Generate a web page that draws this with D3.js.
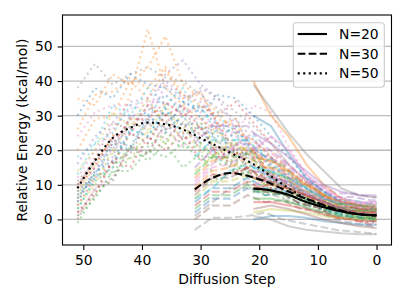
<!DOCTYPE html>
<html>
<head>
<meta charset="utf-8">
<script src="https://cdn.jsdelivr.net/npm/d3@7"></script>
<style>
  body { margin: 0; background: #fff; }
  text { font-family: "DejaVu Sans", sans-serif; }
</style>
</head>
<body>
<div id="chart"></div>
<script>
// diffusion steps sampled for each run length
const steps50 = [51, 48, 45, 42, 39, 36, 33, 30, 27, 24, 21, 18, 15, 12, 9, 6, 3, 0];
const steps30 = [31, 28, 25, 22, 19, 16, 13, 10, 7, 4, 1, 0];
const steps20 = [21, 18, 15, 12, 9, 6, 3, 0];

// mean curves
const mean50 = [9, 17, 23.5, 26.5, 28, 27.5, 26, 23.5, 21, 18.5, 16, 12.5, 9, 6, 4, 2.5, 1.5, 1.2];
const mean30 = [8.7, 12, 13.4, 12.6, 11, 8.8, 6.6, 4.8, 3, 1.8, 1.2, 1.1];
const mean20 = [8.9, 8.4, 7.1, 5, 3.5, 2.3, 1.5, 1.2];

// individual runs, N=50
const runs50 = [
  [5, 14, 17, 26, 24, 32, 27, 28, 22, 22, 15, 14, 10, 8, 4, 3.5, 1.5, 1.5],
  [8, 16, 24, 36, 55, 38, 33, 29, 25, 22, 18, 14, 10, 7, 5, 3, 2, 1],
  [3, 11, 15, 21, 21, 25, 22, 22, 17, 17, 12, 11, 7, 6.5, 3.5, 3, 1.5, 1],
  [10, 15, 24, 25, 33, 30, 33, 26, 28, 19, 20, 13, 12, 7, 5.5, 2.5, 1.5, 0],
  [6, 15, 18, 30, 31, 42, 46, 39, 35, 26, 21, 15, 13, 7.5, 6.5, 3.5, 3.5, 2.5],
  [2, 8, 17, 19, 28, 23, 28, 20, 21, 15, 14, 9, 8, 4.5, 3.5, 1.5, 1.5, 0.5],
  [12, 20, 26, 32, 33, 36, 32, 31, 26, 24, 18, 16, 11, 9.5, 6.5, 5.5, 3.5, 3.5],
  [38, 45, 39, 42, 44, 41, 40, 36, 32, 29, 23, 18, 13, 9, 6, 4, 3, 2],
  [7, 16, 19, 29, 25, 33, 25, 28, 19, 22, 13, 13, 8, 7, 3.5, 2.5, 0.5, 0],
  [18, 22, 33, 30, 38, 33, 38, 29, 31, 22, 24, 15, 14, 9, 7.5, 4.5, 4.5, 3],
  [30, 38, 35, 42, 39, 38, 34, 32, 27, 25, 19, 16, 12, 9, 6, 4, 3, 2],
  [35, 33, 42, 39, 44, 53, 39, 35, 31, 25, 23, 18, 14, 10, 7, 5, 4, 3],
  [-1, 7, 12, 18, 19, 23, 21, 21, 16, 16, 10, 10, 6, 5.5, 2.5, 2.5, 0.5, 0],
  [4, 12, 16, 25, 22, 30, 23, 27, 18, 20, 12, 13, 8, 7, 3, 2.5, 0.5, 0.5],
  [9, 17, 20, 30, 28, 39, 35, 37, 27, 29, 19, 18, 12, 11, 6, 5.5, 3.5, 4],
  [11, 17, 28, 26, 33, 28, 32, 24, 27, 18, 20, 12, 11, 6.5, 5.5, 2.5, 2.5, 1],
  [1, 9, 12, 21, 19, 27, 21, 25, 17, 21, 12, 13, 8, 6.5, 3.5, 3.5, 1.5, 1],
  [5, 14, 16, 25, 22, 31, 27, 30, 22, 25, 15, 15, 9, 8, 4.5, 3.5, 1.5, 1.5],
  [14, 20, 31, 27, 35, 26, 30, 22, 26, 17, 20, 12, 12, 7, 6.5, 4.5, 4.5, 3],
  [3, 12, 15, 26, 24, 32, 24, 27, 17, 20, 11, 12, 7, 5.5, 2.5, 1.5, -0.5, -0.5],
  [8, 13, 23, 21, 29, 25, 30, 22, 26, 17, 20, 11, 11, 6, 5.5, 2.5, 2.5, 2],
  [20, 29, 30, 40, 35, 43, 35, 37, 27, 29, 19, 18, 12, 9.5, 5.5, 4.5, 2.5, 2],
  [6, 13, 13, 21, 17, 22, 15, 19, 11, 15, 8, 9, 5, 4.5, 2.5, 2.5, 0.5, 1],
  [2, 7, 17, 15, 24, 20, 25, 17, 21, 13, 16, 9, 9, 5, 4.5, 2.5, 2.5, 1],
  [16, 24, 28, 34, 35, 40, 36, 34, 28, 26, 20, 18, 12, 10.5, 6.5, 6.5, 4.5, 5],
  [0, 9, 11, 21, 19, 28, 23, 27, 18, 21, 12, 12, 7, 5.5, 2.5, 1.5, -0.5, -1],
  [24, 31, 33, 33, 34, 34, 30, 29, 26, 25, 33, 31, 21, 13, 8, 6, 5, 4],
  [10, 17, 21, 27, 27, 33, 33, 38, 35, 31, 27, 22, 16, 11, 7, 5, 3, 2],
  [4, 10, 20, 17, 26, 22, 27, 19, 23, 15, 17, 10, 10, 5, 4, 2, 2, 1],
  [13, 22, 25, 33, 30, 36, 31, 33, 24, 27, 18, 17, 11, 9, 5, 4.5, 2.5, 3],
  [7, 12, 22, 20, 30, 26, 34, 31, 36, 35, 30, 24, 18, 12, 8, 5.5, 4, 3.5],
  [26, 36, 37, 41, 38, 44, 36, 33, 29, 27, 21, 20, 14, 11, 7, 5, 3, 2.5],
  [1, 6, 14, 14, 20, 18, 22, 17, 19, 13, 14, 8, 8, 4, 3, 1.5, 1, 0],
  [9, 18, 22, 29, 29, 34, 30, 33, 30, 34, 28, 22, 16, 11, 7, 4.5, 3, 2]
];

// individual runs, N=30
const runs30 = [
  [5, 9, 9, 12, 9, 8.5, 5.5, 4.5, 2, 2, 1, 1],
  [12, 17, 18, 21, 17, 16, 11, 8.5, 4.5, 4, 3, 3],
  [3, 7, 7, 10, 7, 7.5, 4.5, 4, 1.5, 1.5, 0.5, 0.5],
  [8, 13, 13, 15, 11, 10.5, 6.5, 5.5, 2.5, 2.5, 1.5, 1.5],
  [15, 20, 21, 22, 18, 16.5, 11.5, 9.5, 6.5, 6.5, 5.5, 5.5],
  [0, 4, 4, 7, 5, 5.5, 3, 2.5, 0.5, 0.5, -0.5, -0.5],
  [10, 15, 16, 19, 15, 13.5, 9.5, 7.5, 4.5, 4.5, 3.5, 3.5],
  [-3, 0.5, 0.5, 1, 2, 0, -1, -2, -3, -3.5, -4, -4.2],
  [6, 11, 11, 13, 10, 9.5, 6.5, 5.5, 2.5, 2.5, 1.5, 1.5],
  [18, 23, 23, 23, 18, 15.5, 10.5, 8.5, 5.5, 5.5, 4.5, 4.5],
  [2, 6, 6, 9, 7, 7.5, 4.5, 3.5, 1, 1, 0, 0],
  [9, 14, 15, 18, 15, 14.5, 10.5, 8.5, 4.5, 3.5, 2, 2],
  [13, 18, 18, 19, 14, 12.5, 8.5, 7.5, 4.5, 4.5, 3, 3],
  [4, 8, 8, 11, 8, 7.5, 4.5, 3.5, 0.5, 0, -1.5, -1.5],
  [22, 27, 27, 27, 21, 17.5, 12.5, 10.5, 7.5, 7.5, 6.5, 6.5],
  [7, 12, 12, 15, 12, 11.5, 7.5, 6.5, 3.5, 3.5, 2.5, 2.5],
  [11, 16, 20, 24, 20, 17, 13, 9, 6, 4, 3, 2.5],
  [1, 5, 9, 9, 8, 6, 4, 2, 0, -1, -2, -2.5],
  [14, 18, 22, 20, 16, 13, 9, 6.5, 4, 2.5, 1.5, 1.5],
  [6, 9, 14, 16, 13, 10, 7, 4, 2, 0.5, 0, 0]
];

// individual runs, N=20
const runs20 = [
  [30, 27, 19, 12, 8, 5, 4, 3.5],
  [40, 30, 24, 16, 10, 6, 4, 3.5],
  [8, 8, 7, 5.5, 4, 3, 2.5, 2.5],
  [5, 5, 4, 3, 1.5, 0.5, -0.5, -0.5],
  [25, 22, 18, 14, 10, 8, 7, 7],
  [12, 11, 9, 7, 5, 3.5, 3, 3],
  [10, 12, 11, 8, 6, 5, 4.5, 4.5],
  [39, 32, 25, 19, 14, 9, 7, 6.3],
  [2, 3, 2.5, 2, 1, 0.5, 0, 0],
  [15, 14, 12, 9, 6, 4.5, 4, 4],
  [0, 1, 1, 0.5, -0.5, -1, -1.5, -1.5],
  [18, 17, 14, 10, 7, 5, 4, 4],
  [6, 6, 5, 3.5, 2, 1, 0.5, 0.5],
  [9, 10, 9, 7, 5, 3, 2, 2],
  [14, 13, 10, 7.5, 5, 3, 2, 1.5],
  [3, 4, 3, 1.5, 0, -1, -2, -2.5],
  [20, 24, 20, 13, 9, 6, 5, 5],
  [1, 0, -2, -3, -3.5, -4, -4.3, -4.3]
];

const xTicks = [50, 40, 30, 20, 10, 0];
const yTicks = [0, 10, 20, 30, 40, 50];
const legendLabels = ["N=20", "N=30", "N=50"];

const palette = ["#1f77b4", "#ff7f0e", "#2ca02c", "#d62728", "#9467bd",
  "#8c564b", "#e377c2", "#7f7f7f", "#bcbd22", "#17becf"];

const width = 407,
  height = 305,
  margin = { top: 15, bottom: 60, left: 62.5, right: 15.5 };

const dotted = "2.1,3.4",
  dashed = "7.7,3.3";

const svg = d3.select("#chart")
  .append("svg")
  .attr("width", width)
  .attr("height", height);

const xScale = d3.scaleLinear()
  .domain([53.55, -2.55])
  .range([margin.left, width - margin.right]);

const yScale = d3.scaleLinear()
  .domain([-7.4, 59.1])
  .range([height - margin.bottom, margin.top]);

// grid
svg.append("g")
  .selectAll("line")
  .data(yTicks)
  .join("line")
  .attr("x1", margin.left)
  .attr("x2", width - margin.right)
  .attr("y1", d => yScale(d))
  .attr("y2", d => yScale(d))
  .attr("stroke", "#bdbdbd")
  .attr("stroke-width", 1.3);

svg.append("clipPath")
  .attr("id", "plot-clip")
  .append("rect")
  .attr("x", margin.left)
  .attr("y", margin.top)
  .attr("width", width - margin.left - margin.right)
  .attr("height", height - margin.top - margin.bottom);

const plot = svg.append("g").attr("clip-path", "url(#plot-clip)");

function drawRuns(runs, steps, dash, cls) {
  const line = d3.line()
    .x((d, i) => xScale(steps[i]))
    .y(d => yScale(d));

  plot.append("g")
    .attr("class", cls)
    .selectAll("path")
    .data(runs)
    .join("path")
    .attr("d", d => line(d))
    .attr("fill", "none")
    .attr("stroke", (d, i) => palette[i % palette.length])
    .attr("stroke-opacity", 0.35)
    .attr("stroke-width", 2.1)
    .attr("stroke-dasharray", dash);
}

drawRuns(runs50, steps50, dotted, "runs50");
drawRuns(runs30, steps30, dashed, "runs30");
drawRuns(runs20, steps20, null, "runs20");

function drawMean(values, steps, dash) {
  const line = d3.line()
    .curve(d3.curveMonotoneX)
    .x((d, i) => xScale(steps[i]))
    .y(d => yScale(d));

  plot.append("path")
    .attr("d", line(values))
    .attr("fill", "none")
    .attr("stroke", "#000")
    .attr("stroke-width", 2.1)
    .attr("stroke-dasharray", dash);
}

drawMean(mean50, steps50, dotted);
drawMean(mean30, steps30, dashed);
drawMean(mean20, steps20, null);

// axes
const xAxis = d3.axisBottom(xScale)
  .tickValues(xTicks)
  .tickSize(4.9)
  .tickSizeOuter(0)
  .tickPadding(5.5);

const yAxis = d3.axisLeft(yScale)
  .tickValues(yTicks)
  .tickSize(4.9)
  .tickSizeOuter(0)
  .tickPadding(4.9);

svg.append("g")
  .attr("class", "axis x-axis")
  .attr("transform", `translate(0,${height - margin.bottom})`)
  .call(xAxis)
  .call(g => g.select(".domain").remove());

svg.append("g")
  .attr("class", "axis y-axis")
  .attr("transform", `translate(${margin.left},0)`)
  .call(yAxis)
  .call(g => g.select(".domain").remove());

svg.selectAll(".axis text")
  .attr("font-size", 13.9)
  .attr("font-family", "DejaVu Sans")
  .attr("fill", "#000");

svg.selectAll(".axis line")
  .attr("stroke", "#000")
  .attr("stroke-width", 1.1);

svg.append("rect")
  .attr("x", margin.left)
  .attr("y", margin.top)
  .attr("width", width - margin.left - margin.right)
  .attr("height", height - margin.top - margin.bottom)
  .attr("fill", "none")
  .attr("stroke", "#000")
  .attr("stroke-width", 1.1);

svg.append("text")
  .attr("x", (margin.left + width - margin.right) / 2)
  .attr("y", 284)
  .attr("text-anchor", "middle")
  .attr("font-size", 13.9)
  .text("Diffusion Step");

svg.append("text")
  .attr("transform", `translate(27,${(margin.top + height - margin.bottom) / 2}) rotate(-90)`)
  .attr("text-anchor", "middle")
  .attr("font-size", 13.9)
  .text("Relative Energy (kcal/mol)");

// legend
const legend = svg.append("g").attr("class", "legend");

legend.append("rect")
  .attr("x", 293.3)
  .attr("y", 22.7)
  .attr("width", 91)
  .attr("height", 64.6)
  .attr("rx", 3)
  .attr("fill", "#fff")
  .attr("fill-opacity", 0.8)
  .attr("stroke", "#ccc")
  .attr("stroke-width", 1.1);

const legendDash = [null, dashed, dotted];

const row = legend.selectAll("g.row")
  .data(legendLabels)
  .join("g")
  .attr("class", "row")
  .attr("transform", (d, i) => `translate(0,${34 + i * 19.7})`);

row.append("line")
  .attr("x1", 297.7)
  .attr("x2", 327)
  .attr("stroke", "#000")
  .attr("stroke-width", 2.1)
  .attr("stroke-dasharray", (d, i) => legendDash[i]);

row.append("text")
  .attr("x", 339)
  .attr("y", 5)
  .attr("font-size", 13.9)
  .text(d => d);
</script>
</body>
</html>
